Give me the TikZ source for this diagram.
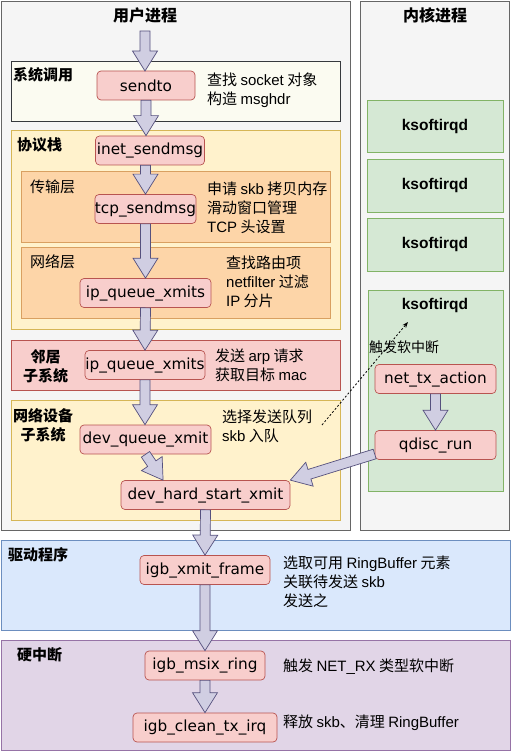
\documentclass[tikz,border=0pt]{standalone}
\usepackage{fontspec}
\setmainfont{Noto Sans CJK SC}
\newfontfamily\fnfont{DejaVu Sans}
\newfontfamily\arialfont{Liberation Sans}
\newcommand{\la}[1]{{\arialfont #1}}
\usepackage{tikz}
\usetikzlibrary{positioning,arrows.meta,calc}

\definecolor{panelfill}{HTML}{F5F5F5}
\definecolor{panelline}{HTML}{666666}
\definecolor{sysfill}{HTML}{FBFBF1}
\definecolor{sysline}{HTML}{36393D}
\definecolor{yelfill}{HTML}{FFF2CC}
\definecolor{yelline}{HTML}{D6B656}
\definecolor{orgfill}{HTML}{FDD5A8}
\definecolor{orgline}{HTML}{D9A061}
\definecolor{redfill}{HTML}{F8CECC}
\definecolor{redline}{HTML}{B85450}
\definecolor{grnfill}{HTML}{D5E8D4}
\definecolor{grnline}{HTML}{82B366}
\definecolor{bluefill}{HTML}{DAE8FC}
\definecolor{blueline}{HTML}{6C8EBF}
\definecolor{purfill}{HTML}{E1D5E7}
\definecolor{purline}{HTML}{9673A6}
\definecolor{arrfill}{HTML}{D0CEE2}
\definecolor{arrline}{HTML}{56517E}

% fat block arrow between two named coordinates
\newcommand{\blockarr}[2]{%
  \coordinate (ba-h) at ($(#2)!20pt!(#1)$);
  \filldraw[fatarr] ($(#1)!5pt!90:(#2)$) -- ($(ba-h)!5pt!90:(#2)$)
    -- ($(ba-h)!12.5pt!90:(#2)$) -- (#2) -- ($(ba-h)!12.5pt!-90:(#2)$)
    -- ($(ba-h)!5pt!-90:(#2)$) -- ($(#1)!5pt!-90:(#2)$) -- cycle;}

\begin{document}
\begin{tikzpicture}[
  x=1pt, y=-1pt,
  panel/.style={draw=panelline, fill=panelfill, line width=0.8pt},
  sysbox/.style={draw=sysline, fill=sysfill, line width=0.7pt},
  yelbox/.style={draw=yelline, fill=yelfill, line width=0.7pt},
  orgbox/.style={draw=orgline, fill=orgfill, line width=0.7pt},
  redbox/.style={draw=redline, fill=redfill, line width=0.7pt},
  grnbox/.style={draw=grnline, fill=grnfill, line width=0.7pt},
  bluebox/.style={draw=blueline, fill=bluefill, line width=0.7pt},
  purbox/.style={draw=purline, fill=purfill, line width=0.7pt},
  fn/.style={draw=redline, fill=redfill, line width=0.7pt, rounded corners=4pt,
             inner sep=0pt, minimum height=29pt,
             font=\fnfont\fontsize{15.3}{18}\selectfont},
  ksoft/.style={font=\arialfont\bfseries\fontsize{15.5}{18}\selectfont, inner sep=0pt},
  title/.style={font=\bfseries\fontsize{16}{19}\selectfont, inner sep=0pt},
  lbl/.style={anchor=west, inner sep=0pt, align=center,
              font=\bfseries\fontsize{15}{19}\selectfont},
  sublbl/.style={anchor=west, inner sep=0pt, font=\fontsize{15}{19}\selectfont},
  desc/.style={anchor=west, inner sep=0pt, align=left,
               font=\fontsize{15}{19}\selectfont},
  fatarr/.style={fill=arrfill, draw=arrline, line width=0.7pt, line join=miter},
  dasharr/.style={-{Stealth[length=6pt,width=4.5pt]}, dashed,
                  dash pattern=on 2pt off 2pt, line width=0.8pt}
]
\useasboundingbox (0,0) rectangle (511,751);

% panels
\draw[panel] (1,1) rectangle (350,530);
\draw[panel] (360,1) rectangle (509.5,530);
\node[title] (tuser) at (145,15) {用户进程};
\node[title] (tkern) at (435,15) {内核进程};

% user process layers
\draw[sysbox] (11,61) rectangle (340,121);
\draw[yelbox] (11,130) rectangle (340,329);
\draw[orgbox] (21,171) rectangle (330,242);
\draw[orgbox] (21,247) rectangle (330,318);
\draw[redbox] (11,340) rectangle (340,390);
\draw[yelbox] (11,400) rectangle (340,520);

% driver and hard irq
\draw[bluebox] (1,540) rectangle (510,630);
\draw[purbox] (1,640) rectangle (510,750);

% kernel softirq threads
\draw[grnbox] (367,100) rectangle (503,152);
\draw[grnbox] (367,159) rectangle (503,212);
\draw[grnbox] (367,218) rectangle (503,271);
\draw[grnbox] (368,290) rectangle (503,491);
\node[ksoft] (ks1) at (435,126) {ksoftirqd};
\node[ksoft] (ks2) at (435,185.5) {ksoftirqd};
\node[ksoft] (ks3) at (435,244.5) {ksoftirqd};
\node[ksoft] (ks4) at (435,305) {ksoftirqd};

% layer labels
\node[lbl]    (lsys)   at (13,75)  {系统调用};
\node[lbl]    (lstack) at (17,145) {协议栈};
\node[sublbl] (ltrans) at (30,187) {传输层};
\node[sublbl] (lnet)   at (30,262) {网络层};
\node[lbl]    (lneigh) at (23,366) {邻居\\子系统};
\node[lbl]    (ldev)   at (13,425) {网络设备\\子系统};
\node[lbl]    (ldrv)   at (8,555)  {驱动程序};
\node[lbl]    (lirq)   at (17,655) {硬中断};

% functions
\node[fn, minimum width=98pt]  (sendto) at (146,85.5)  {sendto};
\node[fn, minimum width=109pt] (inet)   at (150,150.5) {inet\_sendmsg};
\node[fn, minimum width=99pt]  (tcp)    at (145.5,209) {tcp\_sendmsg};
\node[fn, minimum width=131pt] (ipq)    at (145.5,293) {ip\_queue\_xmits};
\node[fn, minimum width=120pt] (neigh)  at (145,365)   {ip\_queue\_xmits};
\node[fn, minimum width=131pt] (devq)   at (145.5,439.5) {dev\_queue\_xmit};
\node[fn, minimum width=169pt] (devh)   at (205.5,495) {dev\_hard\_start\_xmit};
\node[fn, minimum width=130pt] (igbx)   at (205,570)   {igb\_xmit\_frame};
\node[fn, minimum width=120pt] (msix)   at (205,665.5) {igb\_msix\_ring};
\node[fn, minimum width=144pt] (clean)  at (205,727.5) {igb\_clean\_tx\_irq};
\node[fn, minimum width=121pt] (nettx)  at (435.5,379) {net\_tx\_action};
\node[fn, minimum width=121pt] (qdisc)  at (435.5,445) {qdisc\_run};

% descriptions
\node[desc] (dsend)  at (207,90)  {查找 \la{socket} 对象\\构造 \la{msghdr}};
\node[desc] (dtcp)   at (207,208) {申请 \la{skb} 拷贝内存\\滑动窗口管理\\\la{TCP} 头设置};
\node[desc] (dipq)   at (226,282) {查找路由项\\\la{netfilter} 过滤\\\la{IP} 分片};
\node[desc] (dneigh) at (215,365) {发送 \la{arp} 请求\\获取目标 \la{mac}};
\node[desc] (ddevq)  at (222,426) {选择发送队列\\\la{skb} 入队};
\node[desc] (digbx)  at (283,582) {选取可用 \la{RingBuffer} 元素\\关联待发送 \la{skb}\\发送之};
\node[desc] (dmsix)  at (283,667) {触发 \la{NET\_RX} 类型软中断};
\node[desc] (dclean) at (283,723) {释放 \la{skb}、清理 \la{RingBuffer}};
\node[desc, font=\fontsize{14}{17}\selectfont] (dsoft) at (369,347) {触发软中断};

% arrow end points
\coordinate (u0) at (145,31);
\coordinate (u1) at (145,71);
\coordinate (s1) at (sendto.south);
\coordinate (s2) at (sendto.south |- inet.north);
\coordinate (i1) at (tcp.north |- inet.south);
\coordinate (t1) at (tcp.north);
\coordinate (t2) at (tcp.south);
\coordinate (p1) at (ipq.north);
\coordinate (p2) at (ipq.south);
\coordinate (n1) at (neigh.north);
\coordinate (n2) at (neigh.south);
\coordinate (q1) at (neigh.south |- devq.north);
\coordinate (q2) at (devq.south);
\coordinate (h1) at ($(devh.north west)!0.25!(devh.north east)$);
\coordinate (h2) at (devh.south);
\coordinate (x1) at (igbx.north);
\coordinate (x2) at (igbx.south);
\coordinate (m1) at (msix.north);
\coordinate (m2) at (msix.south);
\coordinate (c1) at (clean.north);
\coordinate (a1) at (nettx.south);
\coordinate (a2) at (qdisc.north);
\coordinate (r1) at ($(qdisc.west)+(0,9)$);
\coordinate (r2) at (devh.north east);
\coordinate (sstart) at (322,425);
\coordinate (send)   at (408,322);

% connectors
\blockarr{u0}{u1}
\blockarr{s1}{s2}
\blockarr{i1}{t1}
\blockarr{t2}{p1}
\blockarr{p2}{n1}
\blockarr{n2}{q1}
\blockarr{q2}{h1}
\blockarr{h2}{x1}
\blockarr{x2}{m1}
\blockarr{m2}{c1}
\blockarr{a1}{a2}
\blockarr{r1}{r2}
\draw[dasharr] (sstart) -- (send);
\end{tikzpicture}
\end{document}
